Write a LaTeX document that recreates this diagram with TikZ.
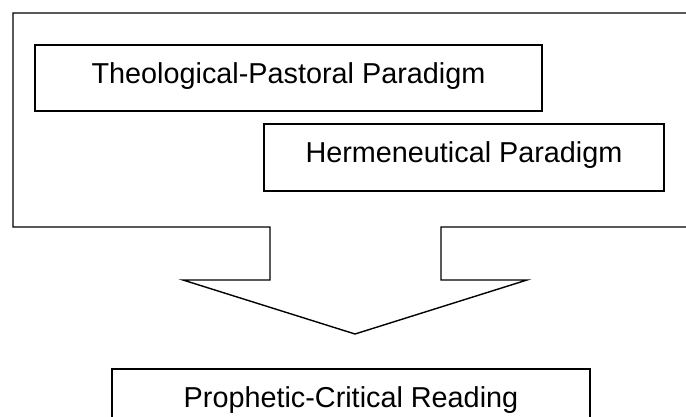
\documentclass[tikz,border=0pt]{standalone}
\usepackage{fontspec}
\setmainfont{Liberation Sans}
\usepackage{tikz}
\usetikzlibrary{positioning}

\begin{document}
\begin{tikzpicture}[x=1pt,y=-1pt]
			\tikzstyle{Frame}	= [line width=1.4pt, line join=miter]
			\tikzstyle{Box}		= [draw, rectangle, line width=1.4pt, inner sep=0pt, font=\fontsize{28.8}{34}\selectfont, text height=20pt, text depth=10pt]
			
			\useasboundingbox (0,0) rectangle (686,416);
			
			% frame round the two paradigms, running into the block arrow
			\draw [Frame] (441,227) -- (700,227) -- (700,13) -- (13,13) -- (13,227) -- (270,227)
				-- (270,280) -- (183,280) -- (355,334) -- (527,280) -- (441,280) -- cycle;
			
			\node (theo) at (288.5,78) [Box][minimum width=507pt, minimum height=66pt] {Theological-Pastoral Paradigm};
			\node (herm) at (464,157.5) [Box][minimum width=400pt, minimum height=67pt] {Hermeneutical Paradigm};
			\node (read) at (351,402) [Box][minimum width=478pt, minimum height=66pt] {Prophetic-Critical Reading};
		\end{tikzpicture}
\end{document}
